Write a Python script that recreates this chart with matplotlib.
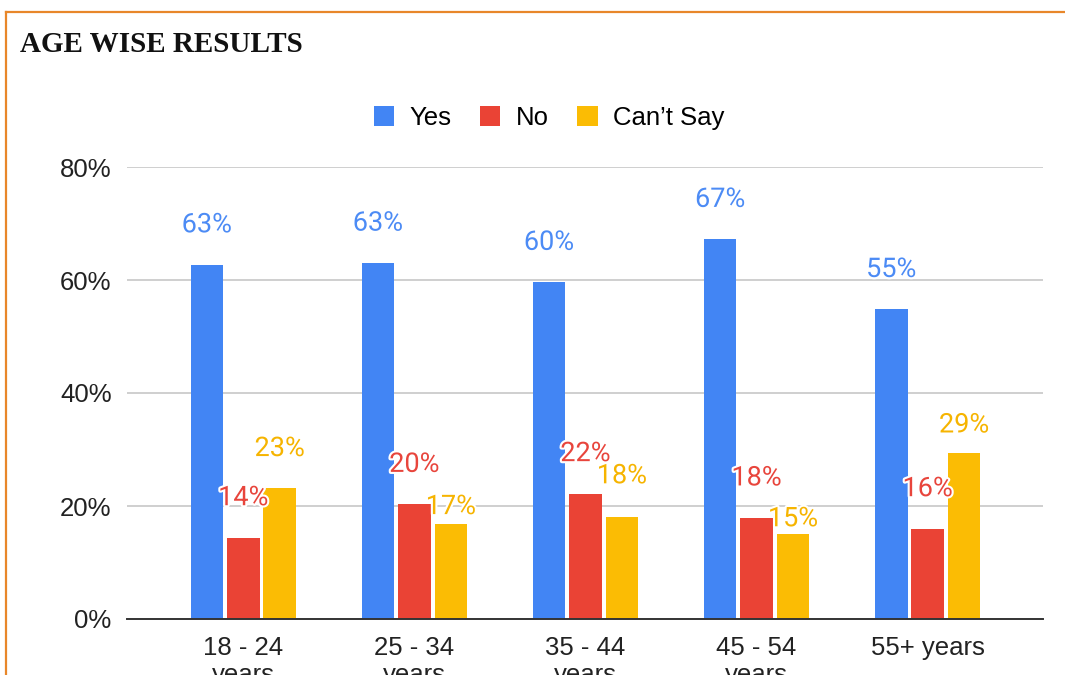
import numpy as np
import matplotlib
matplotlib.use("Agg")
import matplotlib.pyplot as plt
import matplotlib.patheffects as pe
from matplotlib.lines import Line2D
from matplotlib.patches import Patch

# chart data
age_groups = ["18 - 24\nyears", "25 - 34\nyears", "35 - 44\nyears", "45 - 54\nyears", "55+ years"]
yes = [62.7, 63.0, 59.6, 67.2, 54.8]
no = [14.4, 20.3, 22.2, 17.9, 16.0]
cant_say = [23.1, 16.9, 18.1, 15.1, 29.4]
series_names = ["Yes", "No", "Can\u2019t Say"]

colors = ["#4285F4", "#EA4335", "#FBBC04"]
label_colors = ["#4C8BF5", "#E8453C", "#F6B400"]

# label offsets above bar top (pixels); google moved a few to avoid overlap
lift = [[42] * 5, [42] * 5, [42, 19, 43, 17, 30]]

W, H = 1065, 675
fig = plt.figure(figsize=(W / 100, H / 100), dpi=100)
ax = fig.add_axes([127 / W, (H - 619) / H, (1043 - 127) / W, (619 - 167) / H])

x = np.arange(len(age_groups))
bw = 0.19
step = 0.213
for k, vals in enumerate([yes, no, cant_say]):
    xs = x + (k - 1) * step
    ax.bar(xs, vals, width=bw, color=colors[k], zorder=3, label=series_names[k])
    for xi, v, d in zip(xs, vals, lift[k]):
        ax.annotate(f"{v:.0f}%", (xi, v), xytext=(0, d * 0.72 - 1.5), textcoords="offset points",
                    ha="center", va="center", fontsize=19.5, family="Roboto",
                    color=label_colors[k], zorder=5, annotation_clip=False,
                    path_effects=[pe.withStroke(linewidth=3, foreground="white")])

ax.set_xlim((127 - 243.3) / 171.1, (1043 - 243.3) / 171.1)
ax.set_ylim(0, 80)
ax.set_yticks([0, 20, 40, 60, 80])
ax.set_yticklabels(["0%", "20%", "40%", "60%", "80%"])
ax.set_xticks(x)
ax.set_xticklabels(age_groups, linespacing=1.2)
ax.grid(axis="y", color="#cccccc", linewidth=1.3, zorder=0)
for s in ["top", "right", "left"]:
    ax.spines[s].set_visible(False)
ax.spines["bottom"].set_color("#333333")
ax.spines["bottom"].set_linewidth(1.4)
ax.spines["bottom"].set_zorder(4)
ax.tick_params(axis="both", length=0, labelsize=18.5, colors="#222222")
ax.tick_params(axis="y", pad=11)
ax.tick_params(axis="x", pad=12)
for t in ax.get_xticklabels() + ax.get_yticklabels():
    t.set_family("Liberation Sans")

handles = [Patch(facecolor=c, edgecolor="none") for c in colors]
fig.legend(handles, series_names, loc="center", bbox_to_anchor=(549 / W, 1 - 118 / H),
           ncol=3, frameon=False, handlelength=0.8, handleheight=0.8,
           handletextpad=0.6, columnspacing=1.1, prop={"family": "Liberation Sans", "size": 18.5})

fig.text(20 / W, 1 - 45 / H, "AGE WISE RESULTS", ha="left", va="center",
         fontsize=21, fontweight="bold", family="Liberation Serif", color="#111111")

# orange frame (only top and left edges fall inside the crop)
border = "#E8872A"
fig.add_artist(Line2D([6 / W, 1], [1 - 12 / H] * 2, color=border, linewidth=1.6))
fig.add_artist(Line2D([6 / W] * 2, [0, 1 - 12 / H], color=border, linewidth=1.6))

fig.savefig("out.png", dpi=100)
